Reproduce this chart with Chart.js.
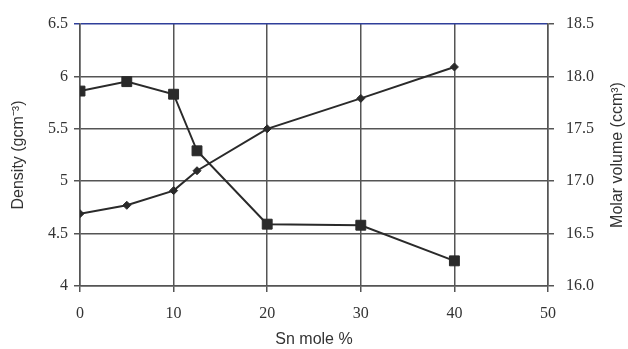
<!DOCTYPE html>
<html>
<head>
<meta charset="utf-8">
<script src="https://cdn.jsdelivr.net/npm/chart.js@4.4.0/dist/chart.umd.min.js"></script>
<style>
  html, body { margin: 0; padding: 0; background: #fff; }
</style>
</head>
<body>
<canvas id="densityChart" width="628" height="349"></canvas>
<script>
// data
const snMole = [0, 5, 10, 12.5, 20, 30, 40];
const density = [5.86, 5.95, 5.83, 5.29, 4.59, 4.58, 4.24];        // squares, left axis
const molarVolume = [16.69, 16.77, 16.91, 17.10, 17.50, 17.79, 18.09]; // diamonds, right axis

const xRange = [0, 50];
const densityRange = [4, 6.5];
const volumeRange = [16.0, 18.5];

const gridColor = '#555';
const inkColor = '#2a2a2a';

// right axis title reads bottom-to-top, Chart.js would draw it the other way
const rightTitle = {
  id: 'rightTitle',
  afterDraw(chart) {
    const c = chart.ctx;
    const sc = chart.scales.y2;
    c.save();
    c.translate(sc.right - 10, (sc.top + sc.bottom) / 2);
    c.rotate(-Math.PI / 2);
    c.font = '16px "Liberation Sans", Arial, sans-serif';
    c.fillStyle = '#333';
    c.textAlign = 'center';
    c.textBaseline = 'middle';
    c.fillText('Molar volume (ccm³)', 0, 0);
    c.restore();
  }
};

const ctx = document.getElementById('densityChart').getContext('2d');
const chart = new Chart(ctx, {
  type: 'line',
  data: {
    datasets: [
      {
        label: 'Density',
        data: snMole.map((x, i) => ({ x: x, y: density[i] })),
        yAxisID: 'y',
        borderColor: inkColor,
        backgroundColor: inkColor,
        borderWidth: 2,
        pointStyle: 'rect',
        pointRadius: 7,
        pointBorderWidth: 1,
        tension: 0
      },
      {
        label: 'Molar volume',
        data: snMole.map((x, i) => ({ x: x, y: molarVolume[i] })),
        yAxisID: 'y2',
        borderColor: inkColor,
        backgroundColor: inkColor,
        borderWidth: 2,
        pointStyle: 'rectRot',
        pointRadius: 4,
        pointBorderWidth: 1,
        tension: 0
      }
    ]
  },
  options: {
    responsive: false,
    animation: false,
    layout: { padding: { top: 24, left: 0, right: 0, bottom: 0 } },
    plugins: { legend: { display: false }, tooltip: { enabled: false } },
    scales: {
      x: {
        type: 'linear',
        min: xRange[0],
        max: xRange[1],
        ticks: { stepSize: 10, color: '#333', padding: 12,
                 font: { family: '"Liberation Serif", serif', size: 16 } },
        grid: { color: gridColor, lineWidth: 1.5, tickLength: 6 },
        border: { color: gridColor, width: 1.5 },
        title: { display: true, text: 'Sn mole %', color: '#333', padding: { top: 8, bottom: 0 },
                 font: { family: '"Liberation Sans", Arial, sans-serif', size: 16 } },
        afterFit(scale) { scale.height = 63; }
      },
      y: {
        position: 'left',
        min: densityRange[0],
        max: densityRange[1],
        ticks: { stepSize: 0.5, color: '#333', padding: 6,
                 callback: (v) => String(v),
                 font: { family: '"Liberation Serif", serif', size: 16 } },
        grid: {
          lineWidth: 1.5, tickLength: 6,
          color: (c) => c.tick && c.tick.value === densityRange[1] ? '#2f3f9a' : gridColor
        },
        border: { color: gridColor, width: 1.5 },
        title: { display: true, text: 'Density (gcm⁻³)', color: '#333', padding: { top: 9, bottom: 0 },
                 font: { family: '"Liberation Sans", Arial, sans-serif', size: 16 } },
        afterFit(scale) { scale.width = 80; }
      },
      y2: {
        position: 'right',
        min: volumeRange[0],
        max: volumeRange[1],
        ticks: { stepSize: 0.5, color: '#333', padding: 12,
                 callback: (v) => v.toFixed(1),
                 font: { family: '"Liberation Serif", serif', size: 16 } },
        grid: { drawOnChartArea: false, color: gridColor, lineWidth: 1.5, tickLength: 6 },
        border: { color: gridColor, width: 1.5 },
        afterFit(scale) { scale.width = 80; }
      }
    }
  },
  plugins: [rightTitle]
});
</script>
</body>
</html>
